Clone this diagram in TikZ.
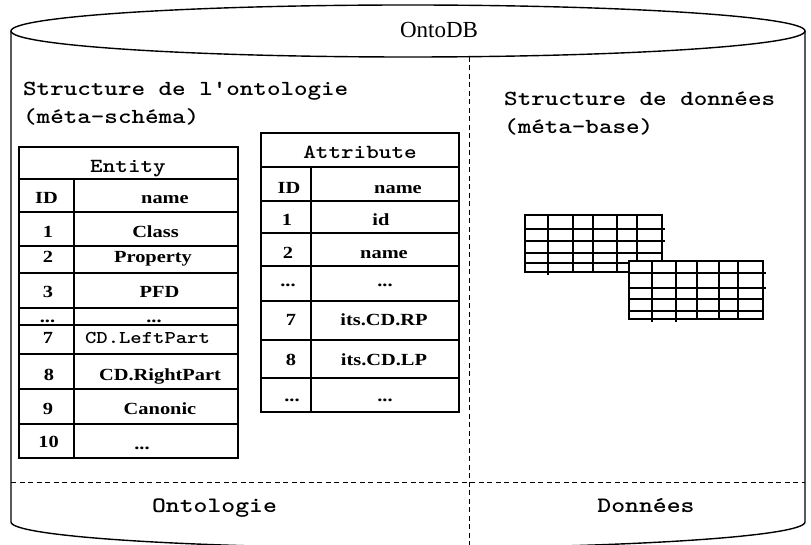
\documentclass[tikz,border=0pt]{standalone}
\usepackage{fontspec}
\newfontfamily\cour{lmmono10-regular.otf}[FakeStretch=1.2, BoldFont=lmmonolt10-bold.otf]
\newfontfamily\tabf{Liberation Serif}[FakeStretch=1.2]
\newfontfamily\titf{Liberation Serif}
\begin{document}
\begin{tikzpicture}[x=1pt,y=-1pt,
  cyl/.style={line width=1.4pt, black},
  sep/.style={line width=1pt, dash pattern=on 5pt off 3.5pt},
  tab/.style={line width=1.4pt},
  grd/.style={line width=1.2pt},
  tx/.style={anchor=base, inner sep=0pt, font=\tabf\bfseries\fontsize{17}{17}\selectfont},
  mono/.style={anchor=base, inner sep=0pt, font=\cour\bfseries\fontsize{18}{18}\selectfont},
  hdr/.style={anchor=base, inner sep=0pt, font=\cour\bfseries\fontsize{20}{20}\selectfont},
  ttl/.style={anchor=base west, inner sep=0pt, font=\cour\bfseries\fontsize{21.5}{21.5}\selectfont},
  lbl/.style={anchor=base, inner sep=0pt, font=\cour\bfseries\fontsize{22}{22}\selectfont}]
\useasboundingbox (0,0) rectangle (811,545);
\fill[white] (0,0) rectangle (811,545);
% cylinder
\draw[cyl] (11,31) .. controls (11,16.64) and (188.7,5) .. (408,5)
  .. controls (627.3,5) and (805,16.64) .. (805,31)
  .. controls (805,45.36) and (627.3,57) .. (408,57)
  .. controls (188.7,57) and (11,45.36) .. (11,31) -- cycle;
\draw[cyl] (11,31) -- (11,522)
  .. controls (11,536.4) and (188.7,548) .. (408,548)
  .. controls (627.3,548) and (805,536.4) .. (805,522) -- (805,31);
\node[anchor=base, inner sep=0pt, font=\titf\fontsize{23}{23}\selectfont] (onto) at (439,37.5) {OntoDB};
% separators
\coordinate (vtop) at (469,56.7);
\coordinate (vbot) at (469,545);
\coordinate (hl) at (11,482);
\coordinate (hr) at (805,482);
\draw[sep] (vtop) -- (vbot);
\draw[sep] (hl) -- (hr);
% titles
\node[ttl] (t1) at (23,96) {Structure de l'ontologie};
\node[ttl] (t2) at (23,124) {(méta-schéma)};
\node[ttl] (t3) at (504,106) {Structure de données};
\node[ttl] (t4) at (504,134) {(méta-base)};
\node[lbl] (onto1) at (214.5,512) {Ontologie};
\node[lbl] (donn) at (646,512) {Données};
% Entity table
\draw[tab] (19,147) rectangle (238,458);
\draw[line width=2.2pt] (19,179) -- (238,179);
\draw[tab] (74,179) -- (74,458);
\foreach \y in {212,246,273,308,325,354,389,424}{\draw[tab] (19,\y) -- (238,\y);}
\node[hdr] (eh) at (128,173) {Entity};
\node[tx] (eid) at (46.5,204) {ID};
\node[tx] (ename) at (165,204) {name};
\node[tx] (e1) at (48,238) {1};
\node[tx] (e1n) at (155.5,238) {Class};
\node[tx] (e2) at (48,263) {2};
\node[tx] (e2n) at (153,263) {Property};
\node[tx] (e3) at (48,298) {3};
\node[tx] (e3n) at (159.5,298) {PFD};
\node[tx] (e4) at (47.5,322) {...};
\node[tx] (e4n) at (154,322) {...};
\node[tx] (e7) at (48,343) {7};
\node[mono] (e7n) at (147.5,343) {CD.LeftPart};
\node[tx] (e8) at (49,380) {8};
\node[tx] (e8n) at (160,380) {CD.RightPart};
\node[tx] (e9) at (48,414) {9};
\node[tx] (e9n) at (160,414) {Canonic};
\node[tx] (e10) at (48.5,447) {10};
\node[tx] (e10n) at (142,449) {...};
% Attribute table
\draw[tab] (261,133) rectangle (459,412);
\draw[tab] (261,167) -- (459,167);
\draw[tab] (311,167) -- (311,412);
\foreach \y in {201,233,266,301,340,378}{\draw[tab] (261,\y) -- (459,\y);}
\node[hdr] (ah) at (360,159) {Attribute};
\node[tx] (aid) at (289,194) {ID};
\node[tx] (aname) at (398,194) {name};
\node[tx] (a1) at (287,226) {1};
\node[tx] (a1n) at (381,226) {id};
\node[tx] (a2) at (288,259) {2};
\node[tx] (a2n) at (384,259) {name};
\node[tx] (a3) at (288,287) {...};
\node[tx] (a3n) at (385,287) {...};
\node[tx] (a7) at (291,325) {7};
\node[tx] (a7n) at (384,325) {its.CD.RP};
\node[tx] (a8) at (291,365) {8};
\node[tx] (a8n) at (384,365) {its.CD.LP};
\node[tx] (a9) at (292,401) {...};
\node[tx] (a9n) at (385,401) {...};
% grids
\draw[grd] (525,215) rectangle (662,272);
\foreach \y in {229,241}{\draw[grd] (525,\y) -- (665,\y);}
\foreach \y in {253,263}{\draw[grd] (525,\y) -- (662,\y);}
\foreach \x in {548,573,593,617,637}{\draw[grd] (\x,215) -- (\x,272);}
\draw[grd] (548,272) -- (548,275);
\draw[grd, fill=white] (629,261) rectangle (763,319);
\foreach \y in {273,288}{\draw[grd] (629,\y) -- (766,\y);}
\foreach \y in {299,311}{\draw[grd] (629,\y) -- (763,\y);}
\foreach \x in {652,676,697,719,738}{\draw[grd] (\x,261) -- (\x,319);}
\foreach \x in {652,676}{\draw[grd] (\x,319) -- (\x,322);}
\end{tikzpicture}
\end{document}
